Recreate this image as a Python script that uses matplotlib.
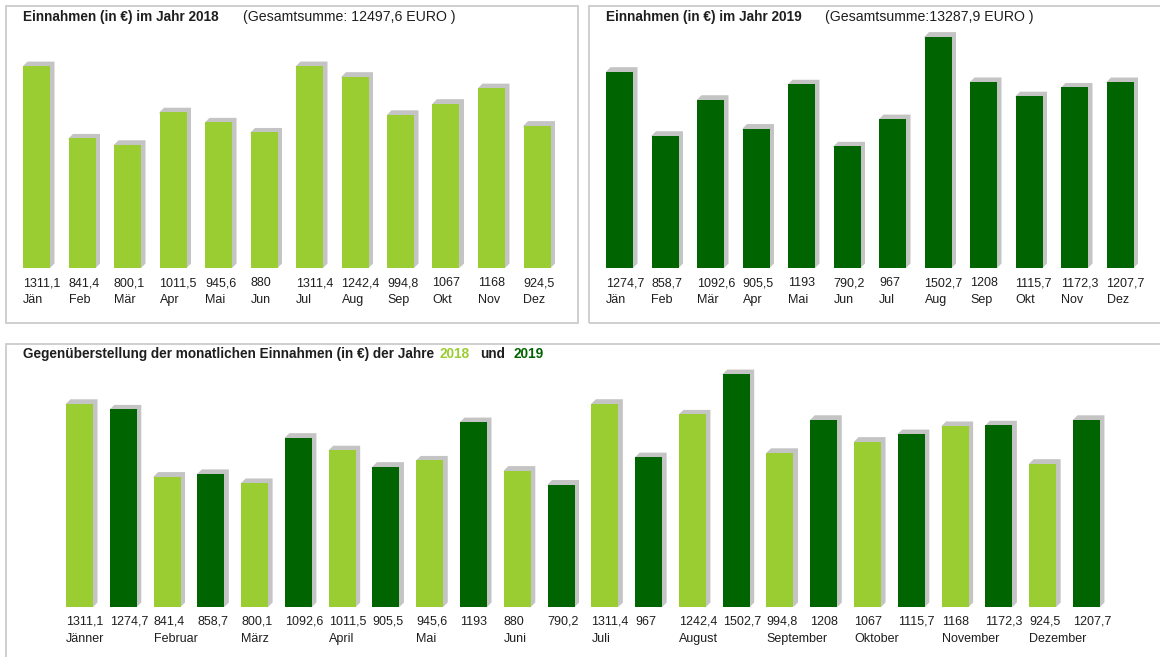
import matplotlib
matplotlib.use("Agg")
import matplotlib.pyplot as plt
from matplotlib.patches import Rectangle, Polygon

plt.rcParams['font.family'] = ['Liberation Sans', 'DejaVu Sans']

months_short = ["Jän", "Feb", "Mär", "Apr", "Mai", "Jun", "Jul", "Aug", "Sep", "Okt", "Nov", "Dez"]
months_long = ["Jänner", "Februar", "März", "April", "Mai", "Juni", "Juli", "August",
               "September", "Oktober", "November", "Dezember"]
values_2018 = [1311.1, 841.4, 800.1, 1011.5, 945.6, 880, 1311.4, 1242.4, 994.8, 1067, 1168, 924.5]
values_2019 = [1274.7, 858.7, 1092.6, 905.5, 1193, 790.2, 967, 1502.7, 1208, 1115.7, 1172.3, 1207.7]
total_2018 = "12497,6"
total_2019 = "13287,9"

LIGHT = "#9ACD32"
DARK = "#006400"
SHADOW = "#C4C4C4"
BORDER = "#CCCCCC"
TXT = "#1E1E1E"

W, H = 1160, 657
fig = plt.figure(figsize=(W / 100, H / 100), dpi=100)
fig.patch.set_facecolor("white")


def fmt(v):
    return f"{v:g}".replace(".", ",")


def add_ax(x0, x1, ytop, ybase):
    ax = fig.add_axes([x0 / W, 1 - ybase / H, (x1 - x0) / W, (ybase - ytop) / H])
    ax.set_axis_off()
    return ax


def border(x0, y0, x1, y1):
    fig.add_artist(Rectangle((x0 / W, 1 - y1 / H), (x1 - x0) / W, (y1 - y0) / H,
                             transform=fig.transFigure, fill=False,
                             edgecolor=BORDER, linewidth=1.3))


def draw_bars(ax, vals, colors, width, px_x, px_y, depth=4.5):
    dx = depth / px_x
    dy = depth / px_y
    for i, (v, c) in enumerate(zip(vals, colors)):
        L = i - width / 2
        R = i + width / 2
        poly = Polygon([(L, v), (L + dx, v + dy), (R + dx, v + dy), (R + dx, dy), (R, 0)],
                       closed=True, facecolor=SHADOW, edgecolor="none", zorder=1)
        ax.add_patch(poly)
    ax.bar(range(len(vals)), vals, width=width, color=colors, zorder=2, linewidth=0)


def labels(ax, vals, width, month_names, month_idx):
    for i, v in enumerate(vals):
        ax.annotate(fmt(v), xy=(i - width / 2, 0), xytext=(0, -15), textcoords="offset pixels",
                    ha="left", va="center", fontsize=9, color=TXT, annotation_clip=False)
    for name, i in zip(month_names, month_idx):
        ax.annotate(name, xy=(i - width / 2, 0), xytext=(0, -32), textcoords="offset pixels",
                    ha="left", va="center", fontsize=9, color=TXT, annotation_clip=False)


# ---------- panel borders ----------
border(6, 6, 578, 323)
border(589, 6, 1175, 323)
border(6, 344, 1175, 680)

# ---------- panel 1 (2018) ----------
sx = 45.5
sy = 0.154
base = 268
c0 = 36.5
ax1 = add_ax(c0 - 0.5 * sx, c0 + 11.5 * sx, base - 1560 * sy, base)
ax1.set_xlim(-0.5, 11.5)
ax1.set_ylim(0, 1560)
w = 27 / sx
draw_bars(ax1, values_2018, [LIGHT] * 12, w, sx, sy)
labels(ax1, values_2018, w, months_short, range(12))

# ---------- panel 2 (2019) ----------
c0 = 619.5
ax2 = add_ax(c0 - 0.5 * sx, c0 + 11.5 * sx, base - 1560 * sy, base)
ax2.set_xlim(-0.5, 11.5)
ax2.set_ylim(0, 1560)
draw_bars(ax2, values_2019, [DARK] * 12, w, sx, sy)
labels(ax2, values_2019, w, months_short, range(12))

# ---------- bottom panel ----------
combined = []
colors = []
for a, b in zip(values_2018, values_2019):
    combined += [a, b]
    colors += [LIGHT, DARK]
sx3 = 43.78
sy3 = 0.155
base3 = 607
c3 = 79.5
ax3 = add_ax(c3 - 0.5 * sx3, c3 + 23.5 * sx3, base3 - 1560 * sy3, base3)
ax3.set_xlim(-0.5, 23.5)
ax3.set_ylim(0, 1560)
w3 = 27 / sx3
draw_bars(ax3, combined, colors, w3, sx3, sy3)
labels(ax3, combined, w3, months_long, range(0, 24, 2))

# ---------- titles ----------
def ftext(x, y, s, **kw):
    return fig.text(x / W, 1 - y / H, s, va="center", ha="left", **kw)

ftext(23, 17, "Einnahmen (in €) im Jahr 2018", fontsize=9.85, fontweight="bold", color=TXT)
ftext(243, 17, f"(Gesamtsumme: {total_2018} EURO )", fontsize=10.2, color=TXT)
ftext(606, 17, "Einnahmen (in €) im Jahr 2019", fontsize=9.85, fontweight="bold", color=TXT)
ftext(825, 17, f"(Gesamtsumme:{total_2019} EURO )", fontsize=10.2, color=TXT)

renderer = fig.canvas.get_renderer()
parts = [("Gegenüberstellung der monatlichen Einnahmen (in €) der Jahre", TXT, 5),
         ("2018", LIGHT, 11), ("und", TXT, 8), ("2019", DARK, 0)]
x = 23
for s, c, gap in parts:
    t = ftext(x, 354, s, fontsize=9.85, fontweight="bold", color=c)
    bb = t.get_window_extent(renderer=renderer)
    x += bb.width + gap

fig.savefig("out.png", dpi=100, facecolor="white")
